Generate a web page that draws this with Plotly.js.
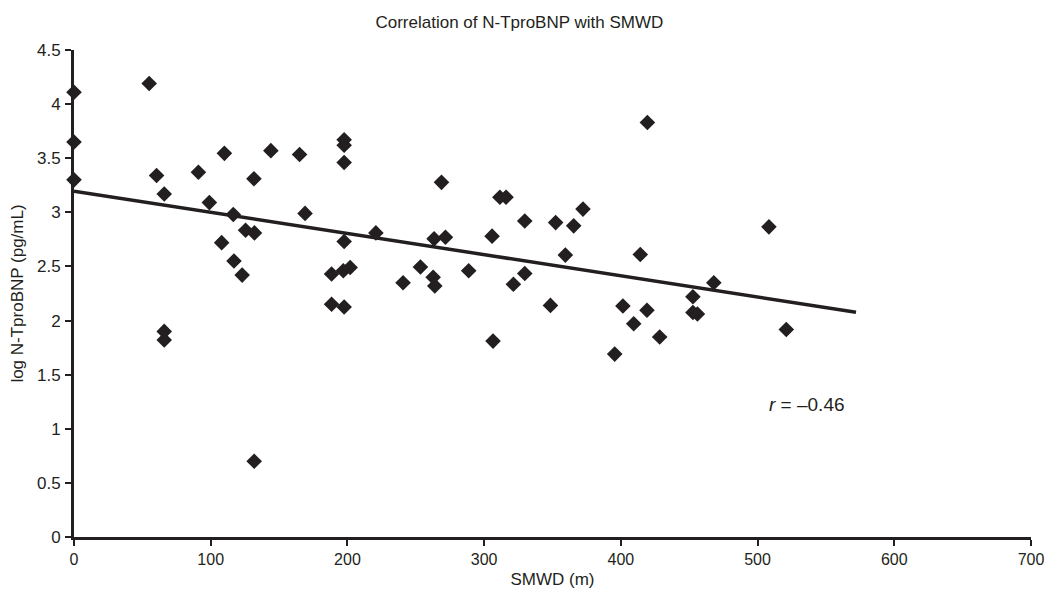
<!DOCTYPE html>
<html>
<head>
<meta charset="utf-8">
<script src="https://cdn.plot.ly/plotly-3.0.1.min.js"></script>
<style>html,body{margin:0;padding:0;background:#fff;}#chart{width:1045px;height:603px;}</style>
</head>
<body>
<div id="chart"></div>
<script>
const smwd = [0, 0, 0, 55, 60.4, 66, 66, 66, 91, 99, 108, 110, 116.5, 117, 123, 125.5, 132, 131.6, 131.8, 144, 165, 169,
  188.4, 188.4, 197, 197.6, 197.6, 197.6, 197.6, 197.6, 202, 220.8, 240.7, 253.4, 262.7, 263.4, 263.9, 268.8, 271.7, 288.7,
  305.8, 306.5, 311.5, 316, 321.4, 329.7, 329.7, 348.5, 352.3, 359.4, 365.5, 372.3, 395.5, 401.5, 409.4, 414.2, 419.1, 419.4,
  428.4, 452.7, 452.7, 456, 468, 508.3, 521];
const logNT = [4.11, 3.65, 3.30, 4.19, 3.34, 3.17, 1.90, 1.82, 3.37, 3.09, 2.72, 3.545, 2.98, 2.55, 2.42, 2.835, 2.81, 3.31, 0.70, 3.57, 3.535, 2.99,
  2.15, 2.43, 2.46, 2.125, 2.73, 3.46, 3.62, 3.67, 2.49, 2.81, 2.35, 2.495, 2.40, 2.755, 2.32, 3.277, 2.77, 2.46,
  2.78, 1.81, 3.14, 3.14, 2.335, 2.435, 2.92, 2.14, 2.905, 2.605, 2.875, 3.03, 1.69, 2.135, 1.97, 2.61, 2.095, 3.83,
  1.848, 2.22, 2.075, 2.06, 2.35, 2.866, 1.917];
const trendX = [0, 572];
const trendY = [3.196, 2.077];
const xTicks = [0, 100, 200, 300, 400, 500, 600, 700];
const yTicks = [0, 0.5, 1, 1.5, 2, 2.5, 3, 3.5, 4, 4.5];
const rLabel = '<i>r</i> = \u20130.46';
const rPos = [536, 1.225];

const ink = '#231f20';
const font = 'Liberation Sans, Arial, Helvetica, sans-serif';

const traces = [
  {x: trendX, y: trendY, type: 'scatter', mode: 'lines', line: {color: ink, width: 3.5}, hoverinfo: 'skip', cliponaxis: false},
  {x: smwd, y: logNT, type: 'scatter', mode: 'markers', marker: {symbol: 'diamond', size: 12, color: ink}, cliponaxis: false}
];

const layout = {
  width: 1045, height: 603,
  margin: {l: 74, r: 14, t: 50, b: 66, pad: 0},
  paper_bgcolor: '#fff', plot_bgcolor: '#fff',
  showlegend: false,
  font: {family: font, color: ink, size: 17},
  title: {text: 'Correlation of N-TproBNP with SMWD', font: {size: 17, color: ink, family: font}, x: 0.497, xref: 'container', y: 0.963, yref: 'container', yanchor: 'middle'},
  xaxis: {
    range: [0, 700], tickvals: xTicks, ticktext: xTicks.map(String),
    showgrid: false, zeroline: false, showline: true, linecolor: ink, linewidth: 3,
    ticks: 'outside', ticklen: 6, tickwidth: 2, tickcolor: ink, ticklabelstandoff: 0,
    tickfont: {size: 16, color: ink},
    title: {text: 'SMWD (m)', font: {size: 17, color: ink}, standoff: 6}
  },
  yaxis: {
    range: [0, 4.5], tickvals: yTicks, ticktext: yTicks.map(String),
    showgrid: false, zeroline: false, showline: true, linecolor: ink, linewidth: 3,
    ticks: 'outside', ticklen: 6, tickwidth: 2, tickcolor: ink, ticklabelstandoff: 1,
    tickfont: {size: 17, color: ink},
    title: {text: 'log N-TproBNP (pg/mL)', font: {size: 17, color: ink}, standoff: 10}
  },
  annotations: [{x: rPos[0], y: rPos[1], xref: 'x', yref: 'y', text: rLabel, showarrow: false, font: {size: 19, color: ink}}]
};

Plotly.newPlot('chart', traces, layout, {displayModeBar: false, staticPlot: true});
</script>
</body>
</html>
